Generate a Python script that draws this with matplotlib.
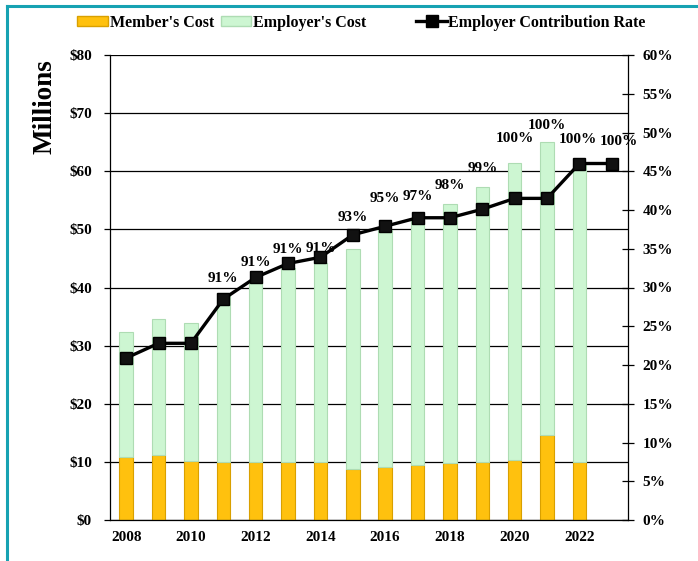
import matplotlib
matplotlib.use("Agg")
import matplotlib.pyplot as plt
from matplotlib.patches import Patch
from matplotlib.lines import Line2D
from matplotlib.ticker import FuncFormatter, MultipleLocator

plt.rcParams['font.family'] = ['Liberation Serif', 'DejaVu Serif']
plt.rcParams['font.weight'] = 'bold'

# ---- data ----
years = [2008, 2009, 2010, 2011, 2012, 2013, 2014, 2015,
         2016, 2017, 2018, 2019, 2020, 2021, 2022, 2023]
bar_years = years[:15]
member_cost = [10.9, 11.1, 10.2, 9.9, 9.9, 10.0, 9.9, 8.7,
               9.1, 9.5, 9.8, 10.0, 10.3, 14.6, 10.0]
employer_cost = [21.5, 23.5, 23.7, 29.2, 31.1, 33.3, 34.3, 37.9,
                 40.8, 42.1, 44.5, 47.3, 51.2, 50.4, 51.5]
contribution_rate = [20.9, 22.8, 22.8, 28.5, 31.3, 33.1, 33.9, 36.8,
                     37.9, 39.0, 39.0, 40.1, 41.5, 41.5, 46.0, 46.0]
label_years = [2011, 2012, 2013, 2014, 2015, 2016, 2017,
               2018, 2019, 2020, 2021, 2022, 2023]
label_texts = ["91%", "91%", "91%", "91%", "93%", "95%", "97%",
               "98%", "99%", "100%", "100%", "100%", "100%"]
label_heights = [41.6, 44.3, 46.6, 46.7, 52.1, 55.3, 55.7,
                 57.5, 60.4, 65.7, 67.8, 65.4, 65.1]
xtick_years = [2008, 2010, 2012, 2014, 2016, 2018, 2020, 2022]

# small horizontal nudges (points) for crowded labels
label_nudge = {2022: -1.0, 2023: 5.0}

# ---- figure ----
W, H = 698, 561
fig = plt.figure(figsize=(W / 100, H / 100), dpi=100)
ax = fig.add_axes([110 / W, 1 - 520 / H, 518 / W, 465 / H])

idx = {y: i for i, y in enumerate(years)}
xb = [idx[y] for y in bar_years]

ax.bar(xb, member_cost, width=0.42, color='#FFC10E', edgecolor='#D9A000',
       linewidth=0.8, zorder=2)
ax.bar(xb, employer_cost, bottom=member_cost, width=0.42, color='#CDF6D2',
       edgecolor='#AEDCB3', linewidth=0.8, zorder=2)

ax.set_xlim(-0.5, len(years) - 0.5)
ax.set_ylim(0, 80)
ax.yaxis.set_major_locator(MultipleLocator(10))
ax.yaxis.set_major_formatter(FuncFormatter(lambda v, p: f"${v:.0f}"))
ax.set_axisbelow(True)
ax.grid(axis='y', color='black', linewidth=0.9)
ax.set_xticks([idx[y] for y in xtick_years])
ax.set_xticklabels([str(y) for y in xtick_years])
ax.tick_params(axis='x', length=0, pad=8, labelsize=11)
ax.tick_params(axis='y', length=4, width=0.9, direction='out', pad=9, labelsize=11)
for s in ['top', 'right']:
    ax.spines[s].set_visible(False)
ax.spines['left'].set_linewidth(0.9)
ax.spines['bottom'].set_linewidth(0.9)
ax.set_ylabel("Millions", fontsize=19.5, fontweight='bold')
ax.yaxis.set_label_coords(-52 / 518, 0.89)

ax2 = ax.twinx()
ax2.plot(list(range(len(years))), contribution_rate, color='black', linewidth=2.4,
         marker='s', markersize=9, markerfacecolor='#111111',
         markeredgecolor='black', zorder=3)
ax2.set_ylim(0, 60)
ax2.yaxis.set_major_locator(MultipleLocator(5))
ax2.yaxis.set_major_formatter(FuncFormatter(lambda v, p: f"{v:.0f}%"))
ax2.tick_params(axis='y', length=9, width=0.9, direction='inout', pad=6, labelsize=11)
for s in ['top', 'left', 'bottom']:
    ax2.spines[s].set_visible(False)
ax2.spines['right'].set_linewidth(0.9)

for y, t, h in zip(label_years, label_texts, label_heights):
    ax2.annotate(t, xy=(idx[y], h), xycoords=ax.transData,
                 xytext=(label_nudge.get(y, 0.0), 0), textcoords='offset points',
                 ha='center', va='center', fontsize=11, fontweight='bold',
                 zorder=5, annotation_clip=False)

# ---- legends ----
h1 = Patch(facecolor='#FFC10E', edgecolor='#D9A000')
h2 = Patch(facecolor='#CDF6D2', edgecolor='#AEDCB3')
h3 = Line2D([], [], color='black', linewidth=2.4, marker='s', markersize=9)
leg1 = fig.legend([h1, h2], ["Member's Cost", "Employer's Cost"], ncol=2,
                  loc='center', bbox_to_anchor=(222 / W, 1 - 23 / H),
                  frameon=False, fontsize=11.5, handlelength=1.9,
                  handleheight=0.6, handletextpad=0.15, columnspacing=0.4,
                  borderpad=0)
leg2 = fig.legend([h3], ["Employer Contribution Rate"], loc='center',
                  bbox_to_anchor=(531 / W, 1 - 23 / H), frameon=False,
                  fontsize=11.5, handlelength=1.9, handletextpad=0.1, borderpad=0)

# ---- teal border ----
teal = '#17A2B2'
fig.add_artist(Line2D([7 / W, 7 / W], [0, 1 - 6 / H], transform=fig.transFigure,
                      color=teal, linewidth=2.2))
fig.add_artist(Line2D([7 / W, 1], [1 - 6 / H, 1 - 6 / H], transform=fig.transFigure,
                      color=teal, linewidth=2.2))

fig.savefig("out.png", dpi=100)
